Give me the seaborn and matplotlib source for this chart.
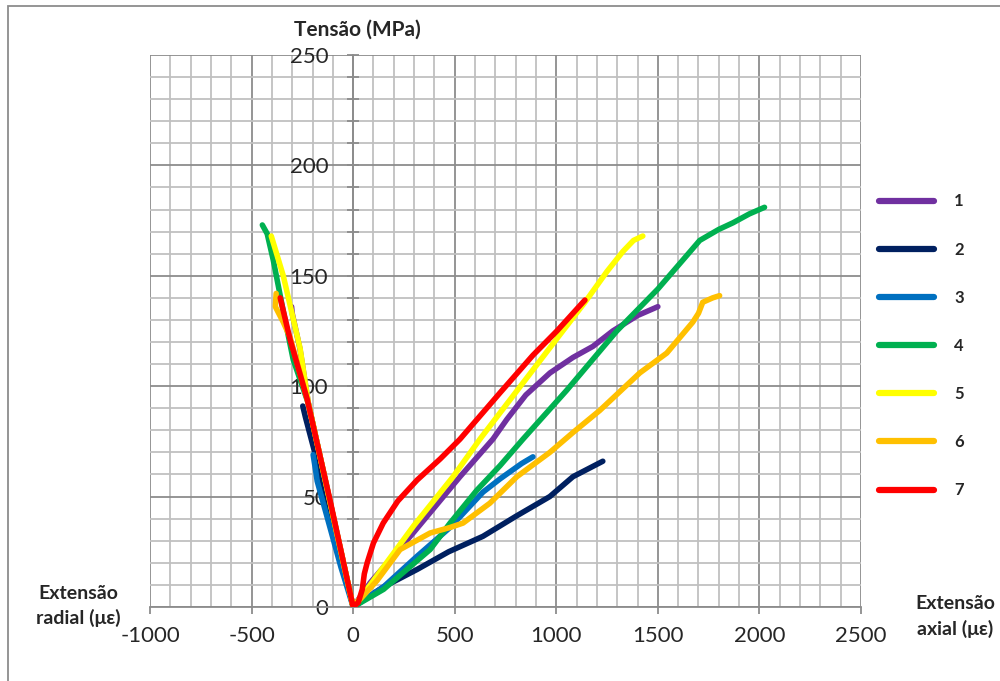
import numpy as np
import pandas as pd
import matplotlib
matplotlib.use("Agg")
import matplotlib.pyplot as plt
from matplotlib.patches import Rectangle
from matplotlib.ticker import MultipleLocator
import seaborn as sns

# radial branch (negative strain), listed from origin up
rad_x_1 = [0, -110, -220, -262, -300, -303]
rad_y_1 = [0, 46, 92, 117, 133, 136]
ax_x_1 = [0, 84, 300, 526, 688, 757, 850, 969, 1082, 1180, 1278, 1400, 1500]
ax_y_1 = [0, 11, 34, 59, 76, 85, 96, 106, 113, 118, 125, 132, 136]

rad_x_2 = [0, -120, -235, -248]
rad_y_2 = [0, 46, 86, 91]
ax_x_2 = [0, 148, 315, 470, 639, 800, 968, 1082, 1229]
ax_y_2 = [0, 9, 17, 25, 32, 41, 50, 59, 66]

rad_x_3 = [0, -60, -123, -177, -185, -197]
rad_y_3 = [0, 18, 39, 57, 62, 69]
ax_x_3 = [0, 148, 315, 477, 639, 723, 830, 885]
ax_y_3 = [0, 9, 23, 36, 52, 58, 65, 68]

rad_x_4 = [0, -110, -220, -295, -344, -393, -423, -447]
rad_y_4 = [0, 46, 92, 112, 134, 157, 169, 173]
ax_x_4 = [0, 150, 379, 477, 610, 723, 836, 1050, 1298, 1500, 1650, 1706, 1800, 1870, 1950, 2025]
ax_y_4 = [0, 8, 26, 38, 53, 64, 76, 98, 125, 144, 160, 166, 171, 174, 178, 181]

rad_x_5 = [0, -110, -220, -261, -344, -403]
rad_y_5 = [0, 46, 92, 117, 150, 168]
ax_x_5 = [0, 84, 300, 492, 624, 782, 1032, 1141, 1250, 1328, 1380, 1426]
ax_y_5 = [0, 10, 37, 59, 76, 95, 125, 138, 152, 161, 166, 168]

rad_x_6 = [0, -110, -220, -310, -344, -383, -379]
rad_y_6 = [0, 46, 92, 122, 129, 136, 142]
ax_x_6 = [0, 118, 231, 379, 477, 541, 673, 806, 968, 1082, 1214, 1411, 1544, 1672, 1700, 1721, 1770, 1804]
ax_y_6 = [0, 12, 26, 33.5, 36, 38, 47, 59, 70, 79, 89, 106, 115, 129, 133, 138, 140, 141]

rad_x_7 = [0, -113, -226, -260, -310, -359]
rad_y_7 = [0, 48, 94, 105, 121, 140]
ax_x_7 = [0, 25, 45, 55, 69, 100, 148, 220, 315, 428, 526, 723, 885, 1003, 1141]
ax_y_7 = [0, 2, 8, 15, 20, 29, 38, 48, 57.5, 67, 76, 97, 114, 125, 139]

names = ["1", "2", "3", "4", "5", "6", "7"]
colors = ["#7030A0", "#002060", "#0070C0", "#00B050", "#FFFF00", "#FFC000", "#FF0000"]

rad_x = [rad_x_1, rad_x_2, rad_x_3, rad_x_4, rad_x_5, rad_x_6, rad_x_7]
rad_y = [rad_y_1, rad_y_2, rad_y_3, rad_y_4, rad_y_5, rad_y_6, rad_y_7]
axi_x = [ax_x_1, ax_x_2, ax_x_3, ax_x_4, ax_x_5, ax_x_6, ax_x_7]
axi_y = [ax_y_1, ax_y_2, ax_y_3, ax_y_4, ax_y_5, ax_y_6, ax_y_7]

# one continuous path per specimen: radial top -> origin -> axial top
frames = []
for i, n in enumerate(names):
    xs = rad_x[i][::-1] + axi_x[i][1:]
    ys = rad_y[i][::-1] + axi_y[i][1:]
    frames.append(pd.DataFrame({"strain": xs, "stress": ys, "id": n}))
df = pd.concat(frames, ignore_index=True)

sns.set_style("white")
plt.rcParams["font.family"] = ["Lato", "DejaVu Sans"]
plt.rcParams["axes.unicode_minus"] = False

fig = plt.figure(figsize=(10, 6.81), dpi=100)
ax = fig.add_axes([0.150, 0.1087, 0.711, 0.8106])

sns.lineplot(data=df, x="strain", y="stress", hue="id", palette=colors,
             sort=False, estimator=None, units="id", lw=4.0, ax=ax,
             legend=False, zorder=3, solid_capstyle="round",
             solid_joinstyle="round")

ax.set_xlim(-1000, 2500)
ax.set_ylim(0, 250)
ax.xaxis.set_major_locator(MultipleLocator(500))
ax.xaxis.set_minor_locator(MultipleLocator(100))
ax.yaxis.set_major_locator(MultipleLocator(50))
ax.yaxis.set_minor_locator(MultipleLocator(10))
ax.grid(which="minor", color="#c0c0c0", lw=1.3, zorder=0)
ax.grid(which="major", color="#8c8c8c", lw=1.3, zorder=0)
ax.set_axisbelow(True)

for s in ["top", "right"]:
    ax.spines[s].set_visible(False)
ax.spines["left"].set_position(("data", 0))
ax.spines["left"].set_color("#8c8c8c")
ax.spines["bottom"].set_color("#8c8c8c")
ax.spines["left"].set_linewidth(1.3)
ax.spines["bottom"].set_linewidth(1.3)

ax.tick_params(axis="x", which="major", direction="out", length=5, width=1.3,
               color="#8c8c8c", labelsize=16, pad=9, bottom=True)
ax.tick_params(axis="x", which="minor", length=0)
ax.tick_params(axis="y", which="both", direction="inout", length=8, width=1.3,
               color="#8c8c8c", labelsize=16, pad=14, left=True)
ax.set_xlabel("")
ax.set_ylabel("")

fig.text(0.357, 0.956, "Tensão (MPa)", ha="center", va="center",
         fontsize=15, fontweight="bold")
fig.text(0.078, 0.11, "Extensão\nradial (με)", ha="center", va="center",
         fontsize=14, fontweight="bold", linespacing=1.5)
fig.text(0.955, 0.095, "Extensão\naxial (με)", ha="center", va="center",
         fontsize=14, fontweight="bold", linespacing=1.5)

handles = [plt.Line2D([], [], color=c, lw=4.5, solid_capstyle="round") for c in colors]
leg = fig.legend(handles, names, loc="upper left", bbox_to_anchor=(0.879, 0.716),
                 frameon=False, borderpad=0, borderaxespad=0, handlelength=3.3,
                 handletextpad=1.2, labelspacing=1.93,
                 prop={"size": 12, "weight": "bold"})

fig.patches.append(Rectangle((0.008, -0.05), 1.2, 0.05 + 1 - 6 / 681,
                             transform=fig.transFigure, fill=False,
                             edgecolor="#8c8c8c", lw=1.3))

fig.savefig("out.png", dpi=100, facecolor="white")
